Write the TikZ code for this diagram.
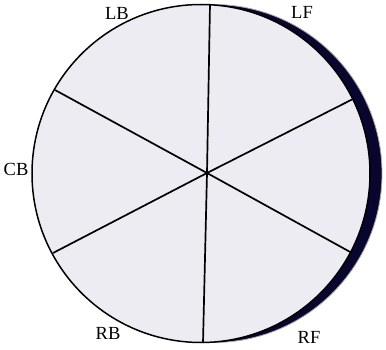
\documentclass[tikz,border=0pt]{standalone}
\usepackage{fontspec}
\setmainfont{Liberation Serif}
\definecolor{diskfill}{HTML}{EDECF2}
\definecolor{shadowfill}{HTML}{08052F}
\begin{document}
\begin{tikzpicture}[x=1pt,y=-1pt,
  spoke/.style={draw=black,line width=1.7pt},
  lbl/.style={inner sep=0pt,font=\fontsize{18.5}{20}\selectfont}]
\useasboundingbox (0,0) rectangle (386,350);
% shadow disk
\node[circle,minimum size=338pt,inner sep=0pt,fill=shadowfill,draw=gray!70,line width=0.8pt] (shadow) at (213,173.5) {};
% main disk
\node[circle,minimum size=338pt,inner sep=0pt,fill=diskfill,draw=black,line width=1.5pt] (disk) at (201,173.5) {};
\coordinate (c) at (207,173);
\coordinate (top) at (210,4);
\coordinate (bot) at (203,343);
\coordinate (ul) at (55,90);
\coordinate (ll) at (53,253);
\coordinate (ur) at (353,99);
\coordinate (lr) at (352,253);
\draw[spoke] (top) -- (c) -- (bot);
\draw[spoke] (ul) -- (c) -- (lr);
\draw[spoke] (ll) -- (c) -- (ur);
\node[lbl] (lb) at (117,13) {LB};
\node[lbl] (lf) at (302,12) {LF};
\node[lbl] (cb) at (16,169) {CB};
\node[lbl] (rb) at (108,333) {RB};
\node[lbl] (rf) at (309,337) {RF};
\end{tikzpicture}
\end{document}
